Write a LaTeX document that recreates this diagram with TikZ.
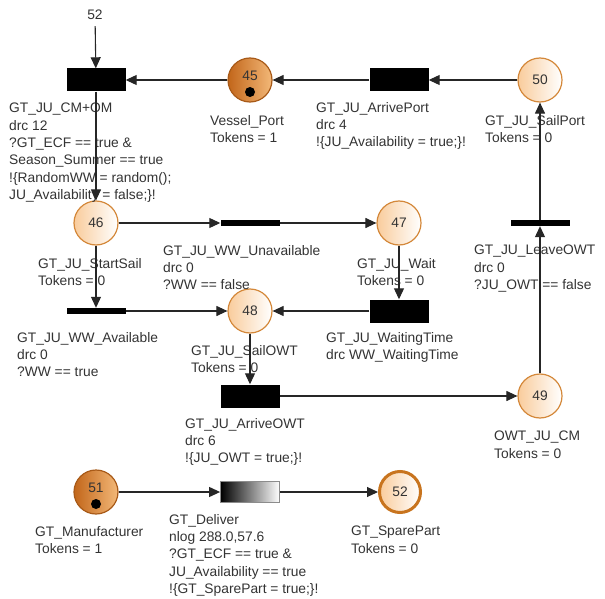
\documentclass[tikz,border=0pt]{standalone}
\usepackage{fontspec}
\setmainfont{Liberation Sans}
\usetikzlibrary{arrows.meta, positioning}

\definecolor{placeedge}{HTML}{D4883A}
\definecolor{placefill}{HTML}{F9CC9C}
\definecolor{darkedge}{HTML}{A85A18}
\definecolor{darkfill}{HTML}{C2661A}
\definecolor{darklight}{HTML}{F3B878}
\definecolor{sinkedge}{HTML}{C8741E}

\begin{document}
\begin{tikzpicture}[
        x=1pt, y=-1pt, on grid,
        font=\fontsize{13.8}{17.3}\selectfont,
        place/.style={circle, draw=placeedge, line width=1.2pt, left color=placefill, right color=white, minimum size=44pt, inner sep=0pt, text=black!80},
        marked/.style={draw=darkedge, left color=darkfill, right color=darklight, text depth=8pt},
        sink/.style={draw=sinkedge, line width=3pt, minimum size=41pt},
        token/.style={circle, fill=black, minimum size=10pt, inner sep=0pt},
        trans/.style={rectangle, fill=black, minimum width=59pt, minimum height=23pt, inner sep=0pt},
        bar/.style={rectangle, fill=black, minimum width=59pt, minimum height=6pt, inner sep=0pt},
        timed/.style={draw=black!45, line width=0.8pt, left color=black, right color=white, minimum height=21pt},
        lbl/.style={anchor=north west, yshift=9.9pt, align=left, inner sep=0pt, text=black!80},
        arrow/.style={line width=1.1pt, draw=black!85, -{Triangle[length=11pt,width=10pt]}}
        ]
        \useasboundingbox (0,0) rectangle (605,599);

        % top row
        \node[trans] (cmom) at (96,80) {};
        \node[place, marked, right=154pt of cmom] (vport) {45};
        \node[trans, right=149pt of vport] (arrport) {};
        \node[place, right=141pt of arrport] (sailport) {50};
        \node[inner sep=6pt, text=black!80] (ref) at (95,15) {52};

        % second row
        \node[place, below=143pt of cmom] (startsail) {46};
        \node[bar, right=154pt of startsail] (wwun) {};
        \node[place, right=149pt of wwun] (wait) {47};
        \node[bar, right=141pt of wait] (leave) {};

        % third row
        \node[bar, below=88pt of startsail] (wwav) {};
        \node[place, right=154pt of wwav] (sailowt) {48};
        \node[trans, right=149pt of sailowt] (waittime) {};
        \node[trans, below=85pt of sailowt] (arrowt) {};
        \node[place, right=290pt of arrowt] (owtcm) {49};

        % spare part
        \node[place, marked, below=181pt of wwav] (manuf) {51};
        \node[trans, timed, right=154pt of manuf] (deliver) {};
        \node[place, sink, right=150pt of deliver] (spare) {52};

        % tokens
        \node[token] (vporttok) at ([yshift=-12pt]vport.center) {};
        \node[token] (manuftok) at ([yshift=-12pt]manuf.center) {};

        % labels
        \node[lbl] (cmomlbl) at (9,113) {GT\_JU\_CM+OM\\drc 12\\?GT\_ECF == true \&\\Season\_Summer == true\\!\{RandomWW = random();\\JU\_Availability = false;\}!};
        \node[lbl] (vportlbl) at (210,125) {Vessel\_Port\\Tokens = 1};
        \node[lbl] (arrportlbl) at (316,112) {GT\_JU\_ArrivePort\\drc 4\\!\{JU\_Availability = true;\}!};
        \node[lbl] (sailportlbl) at (485,125) {GT\_JU\_SailPort\\Tokens = 0};
        \node[lbl] (startsaillbl) at (38,268) {GT\_JU\_StartSail\\Tokens = 0};
        \node[lbl] (wwunlbl) at (163,255) {GT\_JU\_WW\_Unavailable\\drc 0\\?WW == false};
        \node[lbl] (waitlbl) at (357,268) {GT\_JU\_Wait\\Tokens = 0};
        \node[lbl] (leavelbl) at (474,255) {GT\_JU\_LeaveOWT\\drc 0\\?JU\_OWT == false};
        \node[lbl] (wwavlbl) at (17,342) {GT\_JU\_WW\_Available\\drc 0\\?WW == true};
        \node[lbl] (waittimelbl) at (326,342) {GT\_JU\_WaitingTime\\drc WW\_WaitingTime};
        \node[lbl] (sailowtlbl) at (191,355) {GT\_JU\_SailOWT\\Tokens = 0};
        \node[lbl] (arrowtlbl) at (185,428) {GT\_JU\_ArriveOWT\\drc 6\\!\{JU\_OWT = true;\}!};
        \node[lbl] (owtcmlbl) at (494,441) {OWT\_JU\_CM\\Tokens = 0};
        \node[lbl] (manuflbl) at (35,536) {GT\_Manufacturer\\Tokens = 1};
        \node[lbl] (deliverlbl) at (169,524) {GT\_Deliver\\nlog 288.0,57.6\\?GT\_ECF == true \&\\JU\_Availability == true\\!\{GT\_SparePart = true;\}!};
        \node[lbl] (sparelbl) at (351,536) {GT\_SparePart\\Tokens = 0};

        % arcs
        \draw[arrow] (ref) -- (cmom);
        \draw[arrow] (sailport) -- (arrport);
        \draw[arrow] (arrport) -- (vport);
        \draw[arrow] (vport) -- (cmom);
        \draw[arrow] (cmom) -- (startsail);
        \draw[arrow] (startsail) -- (wwun);
        \draw[arrow] (wwun) -- (wait);
        \draw[arrow] (startsail) -- (wwav);
        \draw[arrow] (wwav) -- (sailowt);
        \draw[arrow] (wait) -- (waittime);
        \draw[arrow] (waittime) -- (sailowt);
        \draw[arrow] (sailowt) -- (arrowt);
        \draw[arrow] (arrowt) -- (owtcm);
        \draw[arrow] (owtcm) -- (leave);
        \draw[arrow] (leave) -- (sailport);
        \draw[arrow] (manuf) -- (deliver);
        \draw[arrow] (deliver) -- (spare);
    \end{tikzpicture}
\end{document}
